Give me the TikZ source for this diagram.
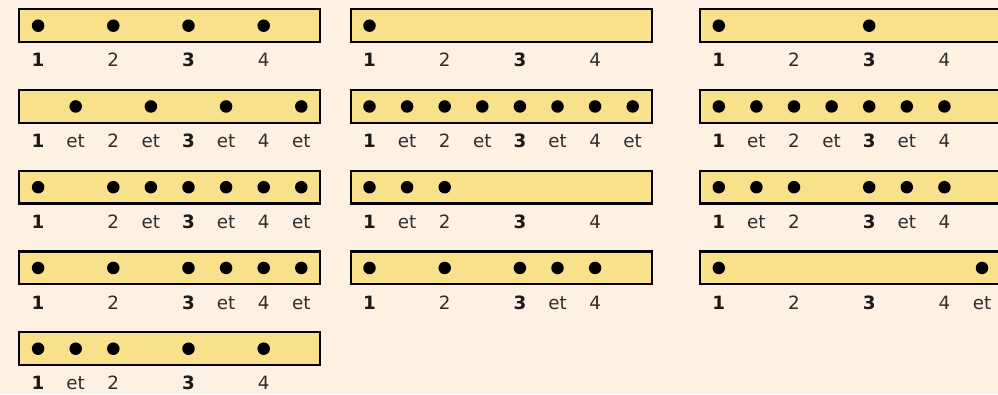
\documentclass[tikz,border=0pt]{standalone}
\usepackage{fontspec}
\setmainfont{DejaVu Sans}
\newfontfamily\bnumfont{DejaVu Sans}
\definecolor{bgcol}{HTML}{FEF1E3}
\definecolor{barfill}{HTML}{F9E08B}
\definecolor{labgray}{HTML}{2E2E2E}
\definecolor{labdark}{HTML}{1A1A1A}
\newcommand\bnm[1]{{\bnumfont\bfseries\color{labdark}#1}}
\tikzset{
  barbox/.style={draw=black, fill=barfill, line width=2.3pt, minimum width=301pt, minimum height=32.7pt, inner sep=0pt, outer sep=0pt},
  beat/.style={circle, fill=black, minimum size=12.5pt, inner sep=0pt},
  lab/.style={anchor=base, inner sep=0pt, text=labgray, font=\fontsize{18.3}{22}\selectfont}
}
\newcommand\rbar[5]{%
  \node[barbox] (#1) at (#2+150.5, #3+16.35) {};
  \foreach \s in {#4} { \node[beat] (#1-d\s) at (#2+18.8+37.6*\s, #3+16.4) {}; }
  \foreach \s/\t in {#5} { \node[lab] (#1-l\s) at (#2+18.8+37.6*\s, #3+57.6) {\t}; }
}
\begin{document}
\begin{tikzpicture}[x=1pt,y=-1pt]
  \useasboundingbox (0,0) rectangle (998,394);
  \clip (0,0) rectangle (998,394);
  \fill[bgcol] (0,0) rectangle (998,394);
  % column 1
  \rbar{aA}{19.3}{9.3}{0,2,4,6}{0/\bnm{1},2/2,4/\bnm{3},6/4}
  \rbar{aB}{19.3}{90.05}{1,3,5,7}{0/\bnm{1},1/et,2/2,3/et,4/\bnm{3},5/et,6/4,7/et}
  \rbar{aC}{19.3}{170.8}{0,2,3,4,5,6,7}{0/\bnm{1},2/2,3/et,4/\bnm{3},5/et,6/4,7/et}
  \rbar{aD}{19.3}{251.55}{0,2,4,5,6,7}{0/\bnm{1},2/2,4/\bnm{3},5/et,6/4,7/et}
  \rbar{aE}{19.3}{332.3}{0,1,2,4,6}{0/\bnm{1},1/et,2/2,4/\bnm{3},6/4}
  % column 2
  \rbar{bA}{350.7}{9.3}{0}{0/\bnm{1},2/2,4/\bnm{3},6/4}
  \rbar{bB}{350.7}{90.05}{0,1,2,3,4,5,6,7}{0/\bnm{1},1/et,2/2,3/et,4/\bnm{3},5/et,6/4,7/et}
  \rbar{bC}{350.7}{170.8}{0,1,2}{0/\bnm{1},1/et,2/2,4/\bnm{3},6/4}
  \rbar{bD}{350.7}{251.55}{0,2,4,5,6}{0/\bnm{1},2/2,4/\bnm{3},5/et,6/4}
  % column 3
  \rbar{cA}{700}{9.3}{0,4}{0/\bnm{1},2/2,4/\bnm{3},6/4}
  \rbar{cB}{700}{90.05}{0,1,2,3,4,5,6}{0/\bnm{1},1/et,2/2,3/et,4/\bnm{3},5/et,6/4}
  \rbar{cC}{700}{170.8}{0,1,2,4,5,6}{0/\bnm{1},1/et,2/2,4/\bnm{3},5/et,6/4}
  \rbar{cD}{700}{251.55}{0,7}{0/\bnm{1},2/2,4/\bnm{3},6/4,7/et}
\end{tikzpicture}
\end{document}
